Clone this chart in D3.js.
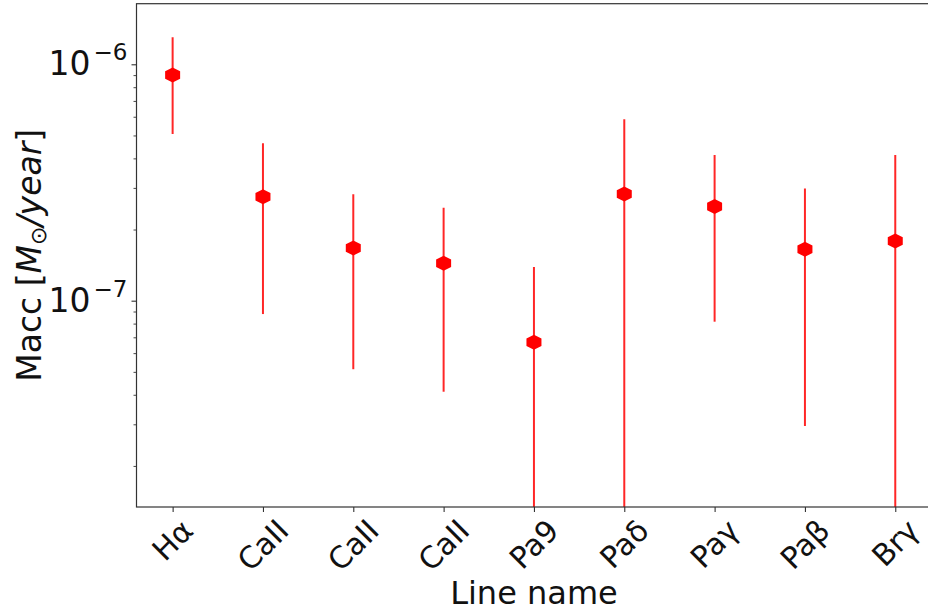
<!DOCTYPE html>
<html>
<head>
<meta charset="utf-8">
<script src="https://cdn.jsdelivr.net/npm/d3@7"></script>
<style>
  html, body { margin: 0; padding: 0; background: #fff; }
  svg { display: block; font-family: "DejaVu Sans", sans-serif; }
</style>
</head>
<body>
<svg id="chart" width="928" height="612"></svg>
<script>
// ---- data ----
const categories = ["Hα", "CaII", "CaII", "CaII", "Pa9", "Paδ", "Paγ", "Paβ", "Brγ"];
const macc       = [9.0e-7, 2.75e-7, 1.67e-7, 1.44e-7, 6.67e-8, 2.83e-7, 2.50e-7, 1.65e-7, 1.79e-7];
const maccUpper  = [1.30e-6, 4.63e-7, 2.82e-7, 2.47e-7, 1.39e-7, 5.85e-7, 4.13e-7, 2.98e-7, 4.13e-7];
const maccLower  = [5.07e-7, 8.78e-8, 5.13e-8, 4.12e-8, 1e-9, 1e-9, 8.15e-8, 2.95e-8, 1e-9];
const yMajorTicks = [1e-7, 1e-6];
const yMajorExponents = ["−7", "−6"];
const yDomain = [Math.pow(10, -7.8727), Math.pow(10, -5.7437)];
const xLabel = "Line name";

// ---- layout ----
const plot = { left: 136.5, right: 931.4, top: 3.7, bottom: 507 };
const svg = d3.select("#chart");
const defs = svg.append("defs");

const x = d3.scaleLinear().domain([-0.4, categories.length - 1 + 0.4]).range([plot.left, plot.right]);
const y = d3.scaleLog().domain(yDomain).range([plot.bottom, plot.top]);

const axisColor = "#333";

defs.append("clipPath").attr("id", "clip")
  .append("rect")
  .attr("x", plot.left).attr("y", plot.top)
  .attr("width", plot.right - plot.left).attr("height", plot.bottom - plot.top);

// error bars
const g = svg.append("g").attr("clip-path", "url(#clip)");
g.selectAll("line.err").data(categories).join("line")
  .attr("class", "err")
  .attr("x1", (d, i) => x(i)).attr("x2", (d, i) => x(i))
  .attr("y1", (d, i) => y(maccLower[i])).attr("y2", (d, i) => y(maccUpper[i]))
  .attr("stroke", "red").attr("stroke-opacity", 0.85).attr("stroke-width", 2);

// hexagon markers
function hexPath(w, h) {
  const hw = w / 2, hh = h / 2, q = h / 4;
  return `M0,${-hh}L${hw},${-q}L${hw},${q}L0,${hh}L${-hw},${q}L${-hw},${-q}Z`;
}
g.selectAll("path.pt").data(categories).join("path")
  .attr("class", "pt")
  .attr("d", hexPath(15, 15))
  .attr("transform", (d, i) => `translate(${x(i)},${y(macc[i])})`)
  .attr("fill", "red");

// frame
svg.append("rect")
  .attr("x", plot.left).attr("y", plot.top)
  .attr("width", plot.right - plot.left).attr("height", plot.bottom - plot.top)
  .attr("fill", "none").attr("stroke", axisColor).attr("stroke-width", 1.2);

// y axis major
const fs = 33;
const yAxisG = svg.append("g").attr("transform", `translate(${plot.left},0)`)
  .call(d3.axisLeft(y).tickValues(yMajorTicks).tickSize(5).tickFormat(""));
yAxisG.select(".domain").remove();
yAxisG.selectAll(".tick text").remove();
yAxisG.selectAll(".tick line").attr("stroke", axisColor).attr("stroke-width", 1.1);
yMajorTicks.forEach((v, i) => {
  const t = svg.append("text")
    .attr("x", plot.left - 9).attr("y", y(v) + 11)
    .attr("text-anchor", "end")
    .attr("fill", "#111")
    .style("font-size", fs + "px");
  t.append("tspan").text("10");
  t.append("tspan").attr("dx", 3).attr("dy", -15).style("font-size", "23px").text(yMajorExponents[i]);
});

// y axis minor
const yMinor = y.ticks().filter(v => !yMajorTicks.some(m => Math.abs(m - v) / m < 1e-6));
const yMinorG = svg.append("g").attr("transform", `translate(${plot.left},0)`)
  .call(d3.axisLeft(y).tickValues(yMinor).tickSize(3).tickFormat(""));
yMinorG.select(".domain").remove();
yMinorG.selectAll(".tick text").remove();
yMinorG.selectAll(".tick line").attr("stroke", axisColor).attr("stroke-width", 0.9);

// x axis
const xfs = 30;
const xAxisG = svg.append("g").attr("transform", `translate(0,${plot.bottom})`)
  .call(d3.axisBottom(x).tickValues(d3.range(categories.length)).tickSize(5).tickFormat(""));
xAxisG.select(".domain").remove();
xAxisG.selectAll(".tick text").remove();
xAxisG.selectAll(".tick line").attr("stroke", axisColor).attr("stroke-width", 1.1);

// tick labels rotated 45°, rotated bounding box centred under each tick
categories.forEach((c, i) => {
  const t = svg.append("text")
    .attr("text-anchor", "middle")
    .attr("dy", "0.35em")
    .attr("fill", "#111")
    .style("font-size", xfs + "px")
    .text(c);
  const w = t.node().getComputedTextLength();
  const h = xfs * 0.95;
  const bh = (w + h) / Math.SQRT2;
  t.attr("transform", `translate(${x(i)},${plot.bottom + 8 + bh / 2}) rotate(-45)`);
});

// axis labels
svg.append("text")
  .attr("x", (plot.left + plot.right) / 2).attr("y", 604)
  .attr("text-anchor", "middle").attr("fill", "#111")
  .style("font-size", "32px")
  .text(xLabel);

const yl = svg.append("text")
  .attr("transform", `translate(41,${(plot.top + plot.bottom) / 2}) rotate(-90)`)
  .attr("text-anchor", "middle").attr("fill", "#111")
  .style("font-size", "33px");
yl.append("tspan").text("Macc [");
yl.append("tspan").style("font-style", "italic").text("M");
yl.append("tspan").attr("dy", 5).style("font-size", "22px").text("⊙");
yl.append("tspan").attr("dy", -5).style("font-style", "italic").text("/year");
yl.append("tspan").text("]");
</script>
</body>
</html>
